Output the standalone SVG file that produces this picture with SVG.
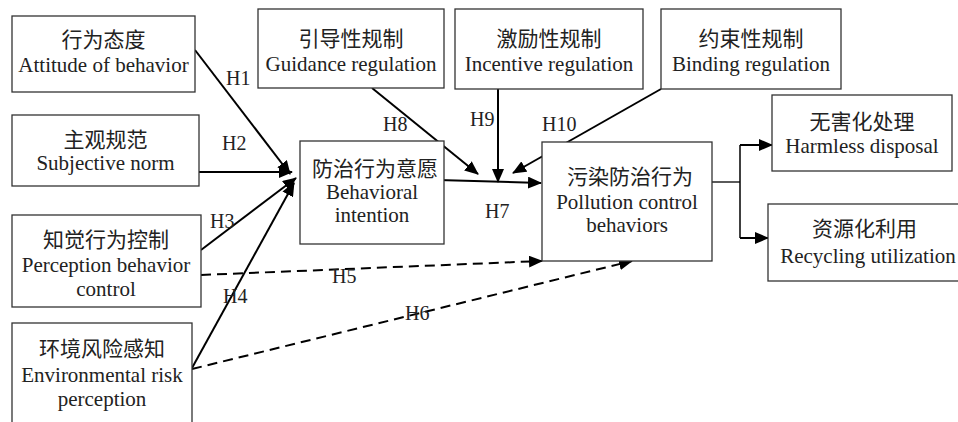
<svg xmlns="http://www.w3.org/2000/svg" width="958" height="422" viewBox="0 0 958 422">
<defs>
<marker id="ah" markerUnits="userSpaceOnUse" markerWidth="14" markerHeight="12" refX="13" refY="6" orient="auto">
<path d="M0,0 L14,6 L0,12 Z" fill="#000"/>
</marker>
<style>
.box{fill:#fff;stroke:#333;stroke-width:1.3}
.t{font-family:"Liberation Serif","Noto Sans CJK SC",serif;font-size:21px;fill:#222;text-anchor:middle}
.lab{font-family:"Liberation Serif",serif;font-size:20px;fill:#222}
.c{fill:none;stroke:#000;stroke-width:2}
.a{marker-end:url(#ah)}
.d{stroke-dasharray:10,6}
</style>
</defs>
<rect width="958" height="422" fill="#fff"/>
<g id="connectors">
<line class="c a" x1="195" y1="50" x2="290" y2="174"/>
<line class="c a" x1="199" y1="172" x2="292" y2="172"/>
<line class="c a" x1="201" y1="250" x2="296" y2="178"/>
<line class="c a" x1="192" y1="368" x2="294" y2="183"/>
<line class="c a d" x1="201" y1="275" x2="542" y2="261"/>
<line class="c a d" x1="192" y1="369" x2="632" y2="261"/>
<line class="c a" x1="438" y1="180" x2="541" y2="183"/>
<line class="c a" x1="372" y1="88" x2="478" y2="174"/>
<line class="c a" x1="498" y1="89" x2="498" y2="182"/>
<line class="c a" x1="661" y1="89" x2="513" y2="173"/>
<polyline class="c" points="712,182 740,182" style="stroke-width:1.3"/>
<polyline class="c" points="740,145 740,238" style="stroke-width:1.5"/>
<line class="c a" x1="740" y1="145" x2="772" y2="145"/>
<line class="c a" x1="740" y1="238" x2="768" y2="238"/>
</g>
<g id="n1"><rect class="box" x="12" y="16" width="183" height="76"/><text class="t" x="103.5" y="47">行为态度</text><text class="t" x="103.5" y="72">Attitude of behavior</text></g>
<g id="n2"><rect class="box" x="12" y="115" width="187" height="71"/><text class="t" x="105.5" y="147">主观规范</text><text class="t" x="105.5" y="170">Subjective norm</text></g>
<g id="n3"><rect class="box" x="12" y="215" width="189" height="92"/><text class="t" x="106" y="247">知觉行为控制</text><text class="t" x="106" y="272">Perception behavior</text><text class="t" x="106" y="296">control</text></g>
<g id="n4"><rect class="box" x="12" y="323" width="180" height="104"/><text class="t" x="102" y="356">环境风险感知</text><text class="t" x="102" y="382">Environmental risk</text><text class="t" x="102" y="406">perception</text></g>
<g id="n5"><rect class="box" x="258" y="9" width="186" height="79"/><text class="t" x="351" y="46">引导性规制</text><text class="t" x="351" y="71">Guidance regulation</text></g>
<g id="n6"><rect class="box" x="455" y="9" width="188" height="80"/><text class="t" x="549" y="46">激励性规制</text><text class="t" x="549" y="71">Incentive regulation</text></g>
<g id="n7"><rect class="box" x="661" y="9" width="180" height="80"/><text class="t" x="751" y="46">约束性规制</text><text class="t" x="751" y="71">Binding regulation</text></g>
<g id="n8"><rect class="box" x="300" y="141" width="144" height="103"/><text class="t" x="375" y="176">防治行为意愿</text><text class="t" x="372" y="199">Behavioral</text><text class="t" x="372" y="222">intention</text></g>
<g id="n9"><rect class="box" x="542" y="142" width="170" height="119"/><text class="t" x="630" y="184">污染防治行为</text><text class="t" x="627" y="209">Pollution control</text><text class="t" x="627" y="232">behaviors</text></g>
<g id="n10"><rect class="box" x="772" y="95" width="180" height="76"/><text class="t" x="862" y="129">无害化处理</text><text class="t" x="862" y="153">Harmless disposal</text></g>
<g id="n11"><rect class="box" x="768" y="204" width="200" height="77"/><text class="t" x="864.5" y="236">资源化利用</text><text class="t" x="868" y="263">Recycling utilization</text></g>
<g id="labels">
<text class="lab" x="226" y="85">H1</text>
<text class="lab" x="222" y="150">H2</text>
<text class="lab" x="210" y="228">H3</text>
<text class="lab" x="223" y="303">H4</text>
<text class="lab" x="332" y="283">H5</text>
<text class="lab" x="405" y="320">H6</text>
<text class="lab" x="485" y="218">H7</text>
<text class="lab" x="383" y="131">H8</text>
<text class="lab" x="470" y="126">H9</text>
<text class="lab" x="542" y="131">H10</text>
</g>
</svg>
